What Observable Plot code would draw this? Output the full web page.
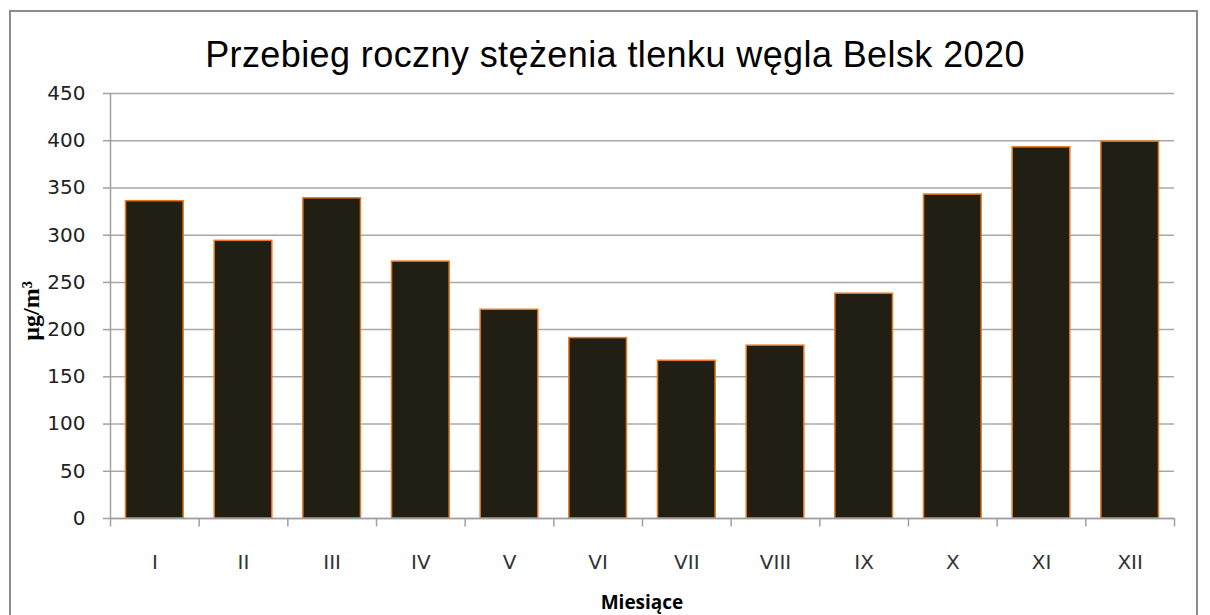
<!DOCTYPE html>
<html>
<head>
<meta charset="utf-8">
<script src="https://cdn.jsdelivr.net/npm/d3@7"></script>
<script src="https://cdn.jsdelivr.net/npm/@observablehq/plot@0.6"></script>
<style>
  html, body { margin: 0; padding: 0; background: #fff; width: 1210px; height: 615px; overflow: hidden; }
  #frame { position: absolute; left: 9px; top: 10px; width: 1189px; height: 640px; border: 2px solid #8c8c8c; box-sizing: border-box; }
  #chart { position: absolute; left: 0; top: 80px; }
  #title { position: absolute; left: 0; width: 1230px; top: 34px; text-align: center; font-family: "Liberation Sans", Arial, sans-serif; font-size: 36px; letter-spacing: 0.4px; color: #000; }
  #ylabel { position: absolute; left: 31px; top: 311px; transform: translate(-50%, -50%) rotate(-90deg); font-family: "Liberation Serif", "Times New Roman", serif; font-weight: bold; font-size: 24px; color: #000; white-space: nowrap; }
  #xlabel { position: absolute; left: 642px; top: 589px; transform: translateX(-50%); font-family: "Open Sans", sans-serif; font-weight: bold; font-size: 19px; color: #000; }
</style>
</head>
<body>
<div id="frame"></div>
<div id="chart"></div>
<div id="title">Przebieg roczny stężenia tlenku węgla Belsk 2020</div>
<div id="ylabel">µg/m³</div>
<div id="xlabel">Miesiące</div>
<script>
const months = ["I", "II", "III", "IV", "V", "VI", "VII", "VIII", "IX", "X", "XI", "XII"];
const values = [336, 294, 339, 272, 221, 191, 167, 183, 238, 343, 393, 399];
const yTicks = [0, 50, 100, 150, 200, 250, 300, 350, 400, 450];

const data = months.map((m, i) => ({month: m, value: values[i]}));

const width = 1210, height = 520;
const marginLeft = 110, marginRight = 36, marginTop = 13, marginBottom = 82;
const step = (width - marginLeft - marginRight) / months.length;

const chart = Plot.plot({
  width, height, marginLeft, marginRight, marginTop, marginBottom,
  style: {fontFamily: "DejaVu Sans, sans-serif", fontSize: "20px", color: "#222", background: "transparent", overflow: "visible"},
  x: {domain: months, paddingInner: 0.35, paddingOuter: 0.175, round: false, label: null},
  y: {domain: [0, 450], label: null},
  marks: [
    Plot.gridY(yTicks, {stroke: "#a8a8a8", strokeOpacity: 1, strokeWidth: 1.5}),
    Plot.barY(data, {x: "month", y: "value", fill: "#211e14", stroke: "#e9781f", strokeWidth: 1.5}),
    Plot.ruleX(months.slice(1), {x: d => d, dx: -step / 2, y1: 0, y2: -9, stroke: "#a0a0a0", strokeWidth: 1.5}),
    Plot.ruleX([months[0]], {x: d => d, dx: -step / 2, y1: 450, y2: -9, stroke: "#a0a0a0", strokeWidth: 1.5}),
    Plot.ruleX([months[months.length - 1]], {x: d => d, dx: step / 2, y1: 0, y2: -9, stroke: "#a0a0a0", strokeWidth: 1.5}),
    Plot.ruleY([0], {stroke: "#a0a0a0", strokeWidth: 1.5}),
    Plot.axisY(yTicks, {tickSize: 7, tickPadding: 18, stroke: "#a0a0a0", strokeWidth: 1.5, fill: "#222", label: null}),
    Plot.axisX({tickSize: 0, tickPadding: 36, fill: "#333", label: null})
  ]
});
document.getElementById("chart").appendChild(chart);
</script>
</body>
</html>
